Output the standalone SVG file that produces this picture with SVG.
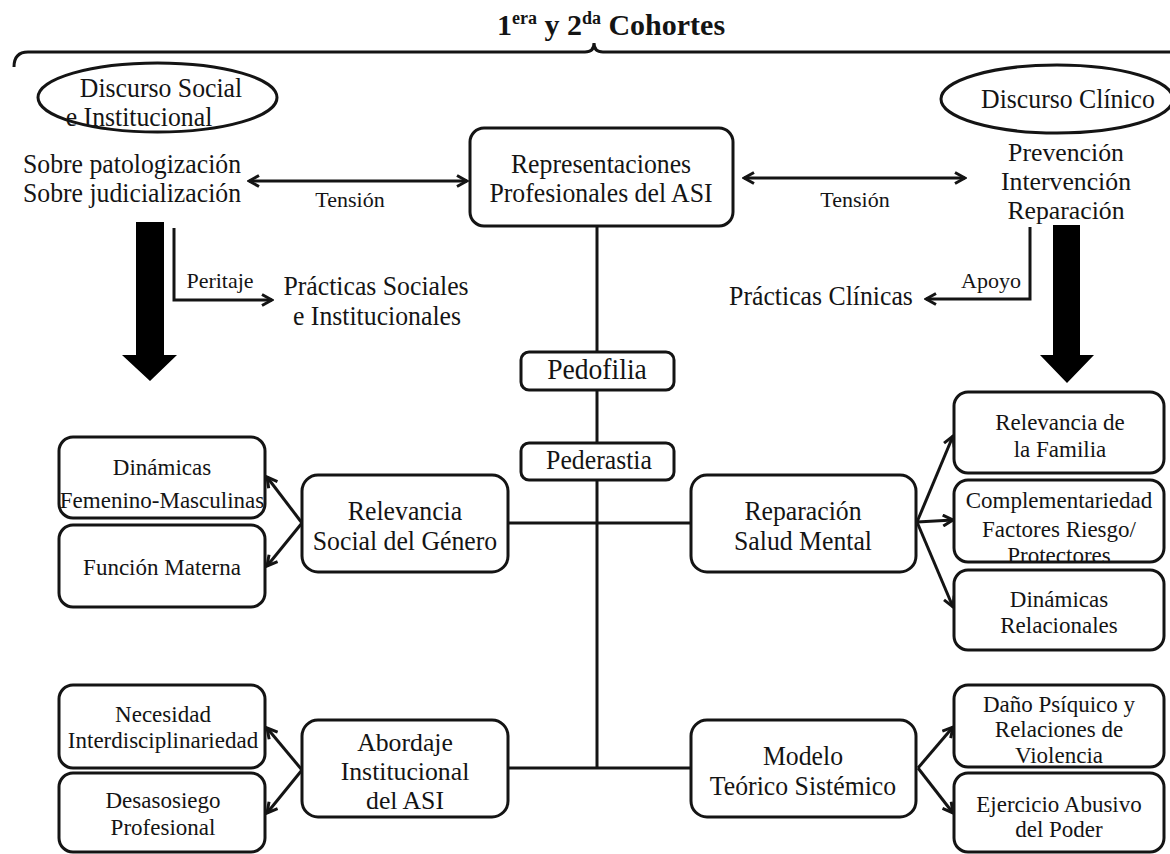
<svg xmlns="http://www.w3.org/2000/svg" width="1170" height="854" viewBox="0 0 1170 854">
<style>
.t{font-family:"Liberation Serif","Times New Roman",serif;fill:#141414;text-anchor:middle}
.m{font-size:28px}
.m3{font-size:26px}
.s{font-size:23px}
.l{font-size:22px}
.box{fill:#fff;stroke:#141414;stroke-width:3}
.ln{fill:none;stroke:#141414;stroke-width:3}
.ar{fill:none;stroke:#141414;stroke-width:3;marker-end:url(#ah)}
.dar{fill:none;stroke:#141414;stroke-width:3;marker-end:url(#ah);marker-start:url(#ah)}
</style>
<defs>
<marker id="ah" viewBox="0 0 14 14" refX="12" refY="7" markerWidth="14" markerHeight="14" orient="auto-start-reverse" markerUnits="userSpaceOnUse">
<path d="M2 1.5 L12 7 L2 12.5" fill="none" stroke="#141414" stroke-width="3" stroke-linejoin="miter"/>
</marker>
</defs>
<rect width="1170" height="854" fill="#fff"/>

<g id="title">
<text class="t" x="611" y="35" font-size="30" font-weight="bold">1<tspan font-size="18" dy="-11">era</tspan><tspan dy="11"> y 2</tspan><tspan font-size="18" dy="-11">da</tspan><tspan dy="11"> Cohortes</tspan></text>
<path class="ln" d="M14 67 Q14 52 28 52 L585 52 Q594 52 594 43 Q594 52 603 52 L1172 52"/>
</g>

<g id="connectors">
<line class="dar" x1="249" y1="181" x2="467" y2="181"/>
<line class="dar" x1="744" y1="178" x2="965" y2="178"/>
<path class="ar" d="M174 228 V300 H272"/>
<path class="ar" d="M1030 227 V299 H926"/>
<polygon points="136,222 164,222 164,355 177,355 150,381 122,355 136,355" fill="#000"/>
<polygon points="1053,225 1080,225 1080,355 1094,355 1067,383 1040,355 1053,355" fill="#000"/>
<path class="ln" d="M597 226 V768"/>
<path class="ln" d="M507 523 H691"/>
<path class="ln" d="M507 768 H691"/>
<path class="ar" d="M302 523 L267 477"/>
<path class="ar" d="M302 523 L267 566"/>
<path class="ar" d="M302 770 L267 728"/>
<path class="ar" d="M302 770 L267 813"/>
<path class="ar" d="M917 522 L953 436"/>
<path class="ar" d="M917 522 L953 520"/>
<path class="ar" d="M917 522 L953 607"/>
<path class="ar" d="M918 768 L953 727"/>
<path class="ar" d="M918 768 L953 813"/>
<text class="t l" x="350" y="207">Tensión</text>
<text class="t l" x="855" y="207">Tensión</text>
<text class="t l" x="220" y="288">Peritaje</text>
<text class="t l" x="991" y="288">Apoyo</text>
</g>

<g id="discurso-social">
<ellipse cx="157.5" cy="97.5" rx="119.5" ry="34.5" fill="none" stroke="#141414" stroke-width="3"/>
<text class="t m" transform="translate(161,97) scale(.92,1)">Discurso Social</text>
<text class="t m" transform="translate(139,126) scale(.92,1)">e Institucional</text>
</g>

<g id="sobre">
<text class="t m" transform="translate(132,173) scale(.92,1)">Sobre patologización</text>
<text class="t m" transform="translate(132,202) scale(.92,1)">Sobre judicialización</text>
</g>

<g id="discurso-clinico">
<ellipse cx="1057" cy="99" rx="116" ry="34" fill="none" stroke="#141414" stroke-width="3"/>
<text class="t m" transform="translate(1068,108) scale(.92,1)">Discurso Clínico</text>
</g>

<g id="prevencion">
<text class="t m3" transform="translate(1066,161) scale(.99,1)">Prevención</text>
<text class="t m3" transform="translate(1066,190) scale(.99,1)">Intervención</text>
<text class="t m3" transform="translate(1066,219) scale(.99,1)">Reparación</text>
</g>

<g id="representaciones">
<rect class="box" x="470" y="128" width="263" height="98" rx="14"/>
<text class="t m" transform="translate(601,173) scale(.92,1)">Representaciones</text>
<text class="t m" transform="translate(601,202) scale(.92,1)">Profesionales del ASI</text>
</g>

<g id="practicas-sociales">
<text class="t m" transform="translate(376,295) scale(.92,1)">Prácticas Sociales</text>
<text class="t m" transform="translate(377,325) scale(.92,1)">e Institucionales</text>
</g>

<g id="practicas-clinicas">
<text class="t m" transform="translate(821,305) scale(.92,1)">Prácticas Clínicas</text>
</g>

<g id="pedofilia">
<rect class="box" x="521" y="352" width="153" height="38" rx="8"/>
<text class="t" font-size="30" transform="translate(597,379) scale(.92,1)">Pedofilia</text>
</g>

<g id="pederastia">
<rect class="box" x="521" y="443" width="153" height="37" rx="8"/>
<text class="t m" transform="translate(599,469) scale(.92,1)">Pederastia</text>
</g>

<g id="relevancia-genero">
<rect class="box" x="302" y="475" width="206" height="97" rx="16"/>
<text class="t m" transform="translate(405,520) scale(.92,1)">Relevancia</text>
<text class="t m" transform="translate(405,550) scale(.92,1)">Social del Género</text>
</g>

<g id="dinamicas-fm">
<rect class="box" x="59" y="437" width="206" height="81" rx="14"/>
<text class="t s" x="162" y="475">Dinámicas</text>
<text class="t s" x="162" y="508">Femenino-Masculinas</text>
</g>

<g id="funcion-materna">
<rect class="box" x="59" y="525" width="206" height="82" rx="14"/>
<text class="t s" x="162" y="575">Función Materna</text>
</g>

<g id="reparacion">
<rect class="box" x="691" y="475" width="225" height="97" rx="16"/>
<text class="t m" transform="translate(803,520) scale(.92,1)">Reparación</text>
<text class="t m" transform="translate(803,550) scale(.92,1)">Salud Mental</text>
</g>

<g id="relevancia-familia">
<rect class="box" x="954" y="392" width="210" height="81" rx="14"/>
<text class="t s" x="1060" y="430">Relevancia de</text>
<text class="t s" x="1060" y="457">la Familia</text>
</g>

<g id="complementariedad">
<rect class="box" x="954" y="480" width="210" height="82" rx="14"/>
<text class="t s" x="1059" y="508">Complementariedad</text>
<text class="t s" x="1059" y="537">Factores Riesgo/</text>
<text class="t s" x="1059" y="563">Protectores</text>
</g>

<g id="dinamicas-relacionales">
<rect class="box" x="954" y="570" width="210" height="80" rx="14"/>
<text class="t s" x="1059" y="607">Dinámicas</text>
<text class="t s" x="1059" y="633">Relacionales</text>
</g>

<g id="abordaje">
<rect class="box" x="302" y="720" width="206" height="97" rx="16"/>
<text class="t m3" transform="translate(405,751) scale(.99,1)">Abordaje</text>
<text class="t m3" transform="translate(405,780) scale(.99,1)">Institucional</text>
<text class="t m3" transform="translate(405,809) scale(.99,1)">del ASI</text>
</g>

<g id="necesidad">
<rect class="box" x="59" y="685" width="206" height="83" rx="14"/>
<text class="t s" x="163" y="722">Necesidad</text>
<text class="t s" x="163" y="748">Interdisciplinariedad</text>
</g>

<g id="desasosiego">
<rect class="box" x="59" y="773" width="206" height="79" rx="14"/>
<text class="t s" x="163" y="808">Desasosiego</text>
<text class="t s" x="163" y="835">Profesional</text>
</g>

<g id="modelo">
<rect class="box" x="691" y="720" width="225" height="97" rx="16"/>
<text class="t m" transform="translate(803,765) scale(.92,1)">Modelo</text>
<text class="t m" transform="translate(803,795) scale(.92,1)">Teórico Sistémico</text>
</g>

<g id="dano">
<rect class="box" x="954" y="685" width="210" height="82" rx="14"/>
<text class="t s" x="1059" y="712">Daño Psíquico y</text>
<text class="t s" x="1059" y="737">Relaciones de</text>
<text class="t s" x="1059" y="763">Violencia</text>
</g>

<g id="ejercicio">
<rect class="box" x="954" y="773" width="210" height="79" rx="14"/>
<text class="t s" x="1059" y="812">Ejercicio Abusivo</text>
<text class="t s" x="1059" y="837">del Poder</text>
</g>
</svg>
